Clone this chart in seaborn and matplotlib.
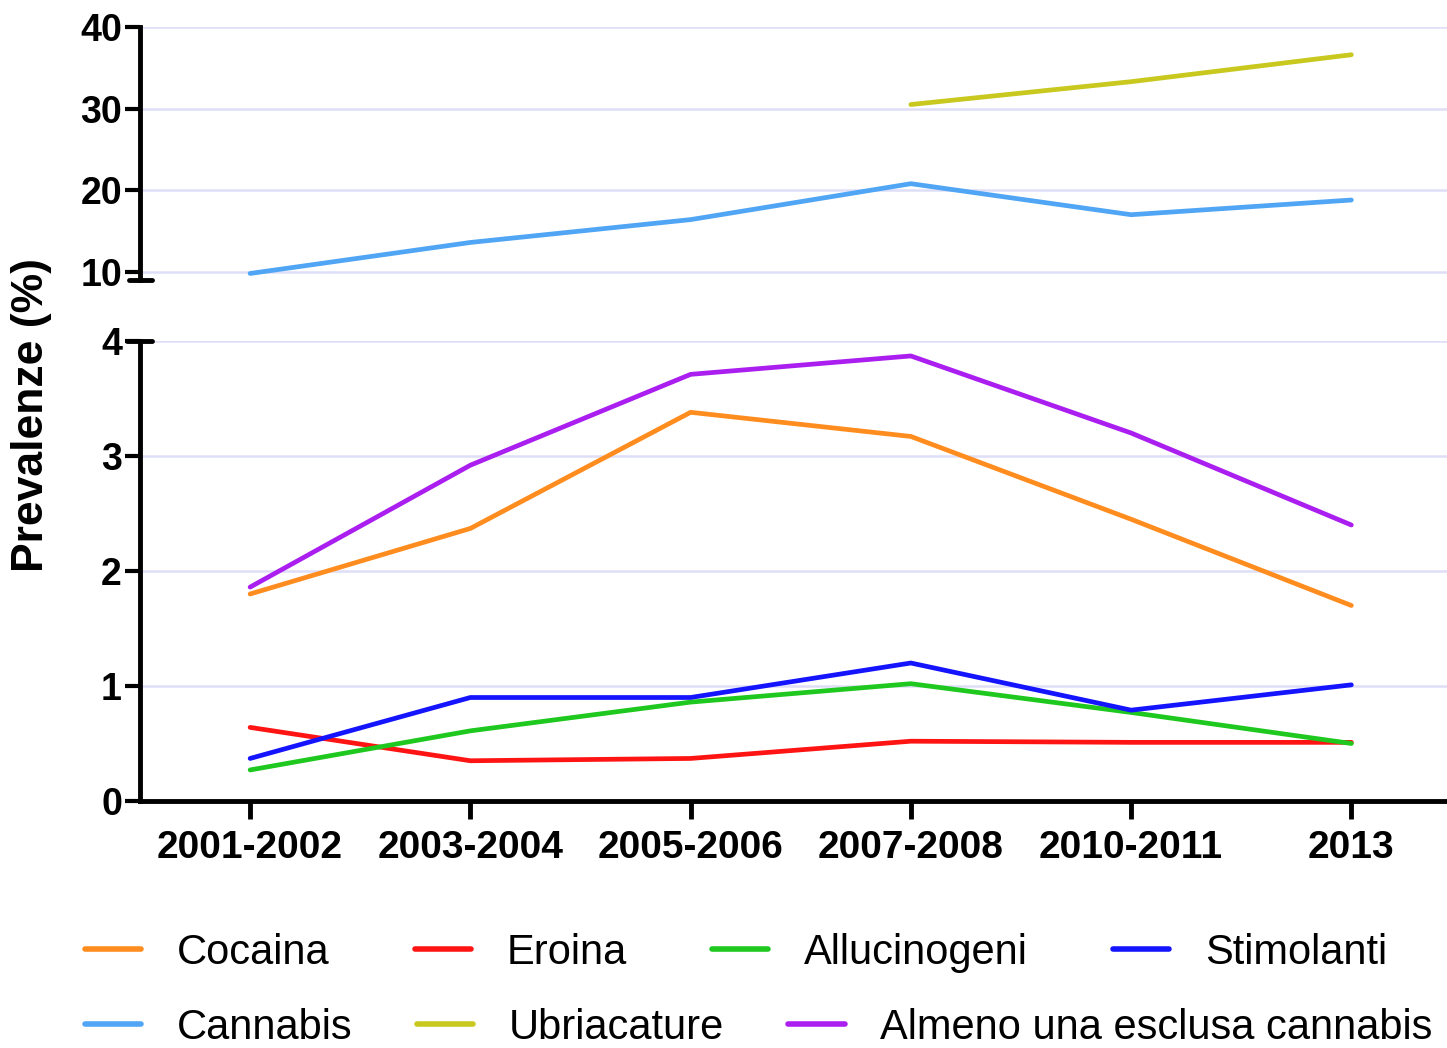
import numpy as np
import pandas as pd
import matplotlib.pyplot as plt
from matplotlib.lines import Line2D
import seaborn as sns

# periods on the x axis
periods = ['2001-2002', '2003-2004', '2005-2006', '2007-2008', '2010-2011', '2013']

# low-prevalence series (bottom panel)
cocaina = [1.80, 2.37, 3.38, 3.17, 2.45, 1.70]
eroina = [0.64, 0.35, 0.37, 0.52, 0.51, 0.51]
allucinogeni = [0.27, 0.61, 0.86, 1.02, 0.77, 0.50]
stimolanti = [0.37, 0.90, 0.90, 1.20, 0.79, 1.01]
almeno = [1.86, 2.92, 3.71, 3.87, 3.20, 2.40]

# high-prevalence series (top panel)
cannabis = [9.8, 13.6, 16.4, 20.8, 17.0, 18.8]
ubriacature = [np.nan, np.nan, np.nan, 30.5, 33.3, 36.6]

colors = {
    'Cocaina': '#ff8c1e',
    'Eroina': '#ff1414',
    'Allucinogeni': '#1ec81e',
    'Stimolanti': '#1414ff',
    'Cannabis': '#50a5f5',
    'Ubriacature': '#c8c81e',
    'Almeno una esclusa cannabis': '#aa1ef0',
}

low = {'Cocaina': cocaina, 'Eroina': eroina, 'Allucinogeni': allucinogeni,
       'Stimolanti': stimolanti, 'Almeno una esclusa cannabis': almeno}
high = {'Cannabis': cannabis, 'Ubriacature': ubriacature}


def to_long(d):
    rows = []
    for name, vals in d.items():
        for i, v in enumerate(vals):
            rows.append({'pos': i, 'value': v, 'series': name})
    return pd.DataFrame(rows).dropna()


df_low = to_long(low)
df_high = to_long(high)

sns.set_style('white')
plt.rcParams['font.family'] = ['Liberation Sans', 'DejaVu Sans']
plt.rcParams['text.color'] = 'black'
plt.rcParams['axes.edgecolor'] = 'black'
plt.rcParams['xtick.color'] = 'black'
plt.rcParams['ytick.color'] = 'black'

fig = plt.figure(figsize=(14.47, 10.48), dpi=100)
W, H = 1447, 1048
left = 140 / W
ax_bot = fig.add_axes([left, 1 - 801 / H, 1 - left + 0.01, (801 - 341) / H])
ax_top = fig.add_axes([left, 1 - 280 / H, 1 - left + 0.01, (280 - 27) / H])

grid_col = '#dedef7'
spine_w = 3.5

for ax, data in [(ax_bot, df_low), (ax_top, df_high)]:
    sns.lineplot(data=data, x='pos', y='value', hue='series', palette=colors,
                 linewidth=3.4, legend=False, ax=ax, zorder=3)
    ax.set_xlim(-0.5, 5.5)
    ax.set_xlabel('')
    ax.set_ylabel('')
    ax.grid(axis='y', color=grid_col, linewidth=1.8, zorder=0)
    ax.spines['top'].set_visible(False)
    ax.spines['right'].set_visible(False)
    ax.spines['left'].set_linewidth(spine_w)
    ax.spines['bottom'].set_linewidth(spine_w)
    ax.tick_params(axis='y', direction='out', length=11, width=3, left=True,
                   labelsize=27, pad=2, colors='black')
    ax.patch.set_alpha(0)

# bottom panel
ax_bot.set_ylim(0, 4)
ax_bot.set_yticks([0, 1, 2, 3, 4])
ax_bot.set_yticklabels(['0', '1', '2', '3', '4'], fontweight='bold', fontsize=27)
ax_bot.set_xticks(range(len(periods)))
ax_bot.set_xticklabels(periods, fontweight='bold', fontsize=28)
ax_bot.tick_params(axis='x', direction='out', length=13, width=3.5, bottom=True,
                   pad=8, colors='black')

# top panel
ax_top.set_ylim(9.0, 40)
ax_top.set_yticks([10, 20, 30, 40])
ax_top.set_yticklabels(['10', '20', '30', '40'], fontweight='bold', fontsize=27)
ax_top.set_xticks([])
ax_top.spines['bottom'].set_visible(False)

# axis-break marks
ax_top.plot([-0.008, 0.009], [0, 0], transform=ax_top.transAxes,
            color='black', linewidth=3.5, clip_on=False)
ax_bot.plot([-0.01, 0.009], [1, 1], transform=ax_bot.transAxes,
            color='black', linewidth=3.5, clip_on=False)

fig.text(32 / W, 1 - 415 / H, 'Prevalenze (%)', rotation=90, fontsize=32,
         fontweight='bold', ha='center', va='center')

# legends, two rows
row1 = ['Cocaina', 'Eroina', 'Allucinogeni', 'Stimolanti']
row2 = ['Cannabis', 'Ubriacature', 'Almeno una esclusa cannabis']
for names, y, cs in [(row1, 1 - 953 / H, 2.05), (row2, 1 - 1028 / H, 1.55)]:
    handles = [Line2D([], [], color=colors[n], linewidth=4) for n in names]
    fig.legend(handles, names, loc='center left', bbox_to_anchor=(85 / W, y),
               ncol=len(names), frameon=False, fontsize=30, borderpad=0,
               borderaxespad=0, handlelength=1.35, handletextpad=0.85,
               columnspacing=cs)

fig.savefig('out.png', dpi=100)
